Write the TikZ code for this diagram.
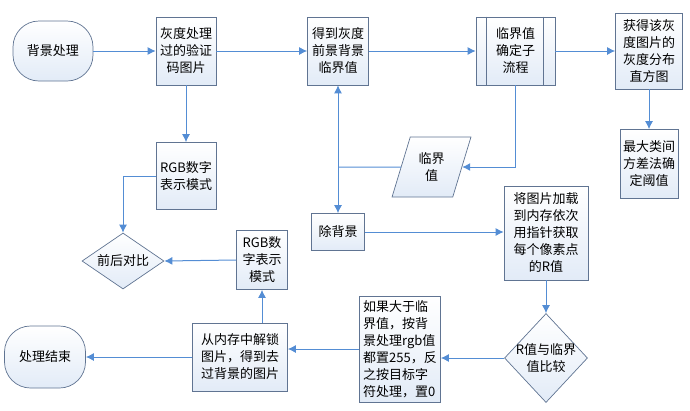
\documentclass[tikz,border=0pt]{standalone}
\usepackage{fontspec}
\setmainfont{Noto Sans CJK SC}
\usetikzlibrary{arrows.meta,shapes.geometric}
\definecolor{edge}{RGB}{84,141,212}
\definecolor{bord}{RGB}{96,116,146}
\definecolor{pale}{RGB}{226,235,247}
\tikzset{
  box/.style={draw=bord, line width=0.7pt, top color=white, bottom color=pale, align=center, inner sep=1.5pt, font=\fontsize{13}{17}\selectfont},
  term/.style={box, rounded corners=26pt},
  diam/.style={box, shape=diamond, inner sep=0pt},
  txt/.style={align=center, font=\fontsize{13}{17}\selectfont, inner sep=0pt},
  arr/.style={draw=edge, line width=1pt, -{Latex[length=8pt,width=8pt]}},
  ln/.style={draw=edge, line width=1pt}
}
\begin{document}
\begin{tikzpicture}[x=1pt,y=-1pt]
\useasboundingbox (0,0) rectangle (690,410);
% nodes
\node[term, minimum width=80pt, minimum height=60pt] (start) at (53,51) {背景处理};
\node[box, minimum width=60pt, minimum height=68pt] (gray) at (186,51) {灰度处理\\过的验证\\码图片};
\node[box, minimum width=61pt, minimum height=68pt] (thr) at (338,51) {得到灰度\\前景背景\\临界值};
\node[box, minimum width=79pt, minimum height=68pt] (sub) at (515.5,51) {临界值\\确定子\\流程};
\draw[bord, line width=0.7pt] ([xshift=11pt]sub.north west) -- ([xshift=11pt]sub.south west);
\draw[bord, line width=0.7pt] ([xshift=-12pt]sub.north east) -- ([xshift=-12pt]sub.south east);
\node[box, minimum width=67pt, minimum height=76pt] (hist) at (649,51) {获得该灰\\度图片的\\灰度分布\\直方图};
\node[box, minimum width=58pt, minimum height=69pt] (otsu) at (649,164) {最大类间\\方差法确\\定阈值};
\node[box, minimum width=60pt, minimum height=67pt] (rgb1) at (186,176) {RGB数字\\表示模式};
\node[diam, minimum width=82pt, minimum height=56pt] (cmp1) at (123,261) {};
\node[txt] (cmp1t) at (cmp1) {前后对比};
\node[box, minimum width=51pt, minimum height=59pt] (rgb2) at (262,260) {RGB数\\字表示\\模式};
\node[box, shape=trapezium, trapezium left angle=69, trapezium right angle=111, trapezium stretches=true, minimum width=79pt, minimum height=60pt, inner sep=0pt] (para) at (431.5,167) {临界\\值};
\node[box, minimum width=53pt, minimum height=37pt] (rm) at (338,232) {除背景};
\node[box, minimum width=84pt, minimum height=94pt] (load) at (546,233) {将图片加载\\到内存依次\\用指针获取\\每个像素点\\的R值};
\node[diam, minimum width=83pt, minimum height=89pt] (cmp2) at (546,358) {};
\node[txt] (cmp2t) at (cmp2) {R值与临界\\值比较};
\node[box, minimum width=81pt, minimum height=106pt, align=left, inner sep=1pt] (ifb) at (400,349) {如果大于临\\界值，按背\\景处理rgb值\\都置255，反\\之按目标字\\符处理，置0};
\node[box, minimum width=95pt, minimum height=68pt] (mem) at (240,357) {从内存中解锁\\图片，得到去\\过背景的图片};
\node[term, minimum width=81pt, minimum height=62pt] (end) at (45,357) {处理结束};
\coordinate (j) at (338,167);
% connectors
\draw[arr] (start.east) -- (gray.west);
\draw[arr] (gray.east) -- (thr.west);
\draw[arr] (thr.east) -- (sub.west);
\draw[arr] (sub.east) -- (hist.west);
\draw[arr] (hist.south) -- (otsu.north);
\draw[arr] (gray.south) -- (rgb1.north);
\draw[arr] (rgb1.west) -| (cmp1.north);
\draw[arr] (rgb2.west) -- (cmp1.east);
\draw[arr] (sub.south) |- (para.east);
\draw[ln] (para.west) -- (j);
\draw[arr] (j) -- (thr.south);
\draw[arr] (j) -- (rm.north);
\draw[arr] (rm.east) -- (rm.east -| load.west);
\draw[arr] (load.south) -- (cmp2.north);
\draw[arr] (cmp2.west) -- (cmp2.west -| ifb.east);
\draw[arr] (ifb.west) -- (ifb.west -| mem.east);
\draw[arr] (mem.north -| rgb2.south) -- (rgb2.south);
\draw[arr] (mem.west) -- (end.east);
\end{tikzpicture}
\end{document}
